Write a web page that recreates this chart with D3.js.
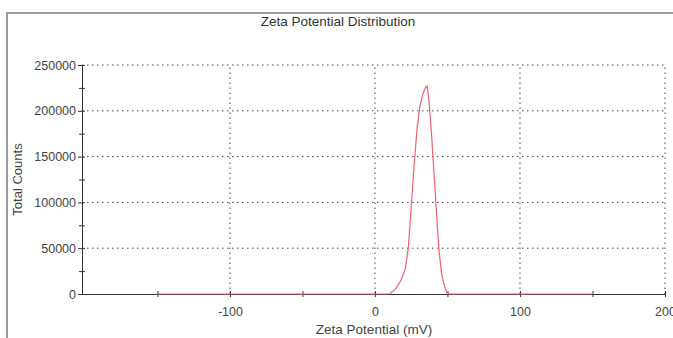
<!DOCTYPE html>
<html>
  <head>
    <meta charset="utf-8">
    <title>Zeta Potential Distribution</title>
    <script src="https://cdn.jsdelivr.net/npm/d3@7"></script>
    <style>
      body { margin: 0; background: #fff; }
      svg { display: block; font-family: "Liberation Sans", Arial, sans-serif; }
      .tick text { fill: #444; font-size: 12.5px; }
      .grid line { stroke: #444; stroke-dasharray: 1.5, 3.5; }
    </style>
  </head>
  <body>
    <svg id="chart" width="673" height="338"></svg>
    <script>
      // data
      zeta = [-150, 10, 14, 18, 21, 23, 25, 27, 29, 31, 33, 35, 36, 37, 39, 41, 43, 44, 46, 48, 50, 150];
      counts = [0, 0, 5000, 15000, 28000, 50000, 95000, 140000, 180000, 205000, 218000, 226000, 227000, 215000, 175000, 125000, 75000, 50000, 22000, 8000, 0, 0];
      xTicks = [-100, 0, 100, 200];
      xMinor = [-150, -50, 50, 150];
      yTicks = [0, 50000, 100000, 150000, 200000, 250000];
      yMinor = [25000, 75000, 125000, 175000, 225000];
      points = zeta.map(function(z, i) { return { z: z, c: counts[i] }; });

      chart = d3.select("#chart");
      margin = { top: 65, right: 8, bottom: 44, left: 82 };
      width = 673;
      height = 338;

      x = d3.scaleLinear()
        .domain([-202, 200])
        .range([margin.left, width - margin.right]);
      y = d3.scaleLinear()
        .domain([0, 250000])
        .range([height - margin.bottom, margin.top]);

      // outer frame
      chart.append("path")
        .attr("d", "M7,338V13H673")
        .attr("fill", "none")
        .attr("stroke", "#9a9a9a")
        .attr("stroke-width", 2);

      // grid
      chart.append("g")
        .attr("class", "grid")
        .selectAll("line")
        .data(yTicks.slice(1))
        .join("line")
        .attr("x1", x(-202))
        .attr("x2", x(200))
        .attr("y1", function(d) { return y(d); })
        .attr("y2", function(d) { return y(d); });
      chart.append("g")
        .attr("class", "grid")
        .selectAll("line")
        .data(xTicks)
        .join("line")
        .attr("x1", function(d) { return x(d); })
        .attr("x2", function(d) { return x(d); })
        .attr("y1", y(0))
        .attr("y2", y(250000));

      // axes
      plain = function(d) { return String(d); };
      xAxis = chart.append("g")
        .attr("transform", "translate(0," + y(0) + ")")
        .call(d3.axisBottom(x).tickValues(xTicks).tickSize(3).tickSizeOuter(0).tickPadding(10).tickFormat(plain));
      xAxis.append("g")
        .call(d3.axisBottom(x).tickValues(xMinor).tickSize(3).tickFormat(""))
        .select(".domain").remove();
      xAxis.selectAll(".tick line").attr("y1", -3);

      yAxis = chart.append("g")
        .attr("transform", "translate(" + margin.left + ",0)")
        .call(d3.axisLeft(y).tickValues(yTicks).tickSize(4).tickSizeOuter(0).tickFormat(plain).tickPadding(2));
      yAxis.append("g")
        .call(d3.axisLeft(y).tickValues(yMinor).tickSize(3).tickFormat(""))
        .select(".domain").remove();
      yAxis.selectAll(".tick line").attr("x1", 3);

      chart.selectAll(".domain").attr("stroke", "#333");
      chart.selectAll(".tick line").attr("stroke", "#333");

      // distribution line
      line = d3.line()
        .x(function(d) { return x(d.z); })
        .y(function(d) { return y(d.c); });
      chart.append("path")
        .datum(points)
        .attr("d", line)
        .attr("fill", "none")
        .attr("stroke", "#f0606e")
        .attr("stroke-width", 1.2);

      // labels
      chart.append("text")
        .attr("x", 338)
        .attr("y", 26)
        .attr("text-anchor", "middle")
        .attr("font-size", 13.5)
        .attr("fill", "#333")
        .text("Zeta Potential Distribution");
      chart.append("text")
        .attr("x", 374)
        .attr("y", 334)
        .attr("text-anchor", "middle")
        .attr("font-size", 13.5)
        .attr("fill", "#444")
        .text("Zeta Potential (mV)");
      chart.append("text")
        .attr("transform", "translate(22," + y(125000) + ") rotate(-90)")
        .attr("text-anchor", "middle")
        .attr("font-size", 13)
        .attr("fill", "#444")
        .text("Total Counts");
    </script>
  </body>
</html>
